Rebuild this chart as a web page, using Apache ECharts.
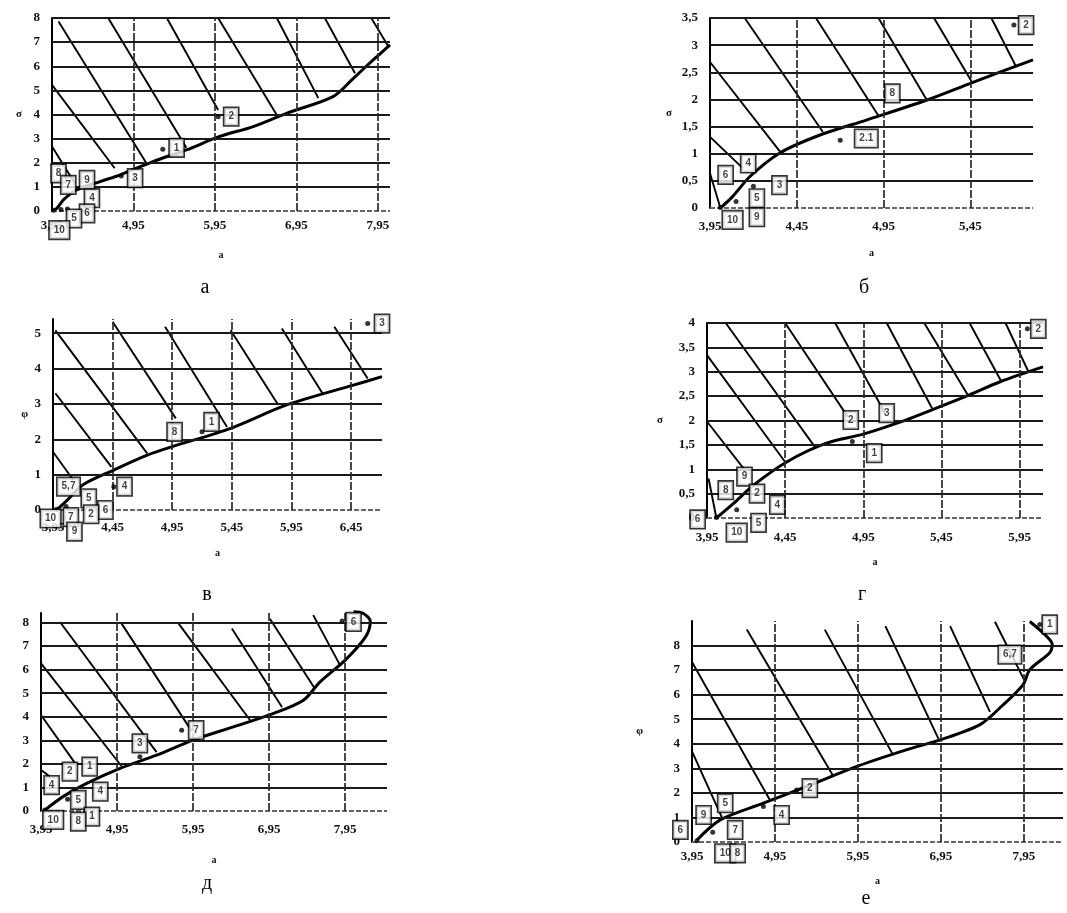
<!DOCTYPE html>
<html>
<head>
<meta charset="utf-8">
<script src="https://cdn.jsdelivr.net/npm/echarts@6/dist/echarts.min.js"></script>
<style>
html, body { margin: 0; background: #fff; }
#chart { width: 1067px; height: 913px; }
</style>
</head>
<body>
<div id="chart"></div>
<script>
// panel а
const aXTicks = [3.95, 4.95, 5.95, 6.95, 7.95];
const aYTicks = [0, 1, 2, 3, 4, 5, 6, 7, 8];
const aCurve = [[3.97, 0.02], [4.01, 0.11], [4.09, 0.46], [4.25, 0.87], [4.54, 1.22], [4.78, 1.49], [5.19, 2.05], [5.6, 2.53], [6.0, 3.08], [6.42, 3.5], [6.83, 4.05], [7.4, 4.74], [7.65, 5.5], [7.89, 6.25], [8.1, 6.89]];
const aHatch = [
    [[3.95, 5.23], [4.72, 1.77]], [[4.03, 7.86], [5.11, 1.98]], [[4.64, 8.0], [5.6, 2.62]],
    [[5.36, 8.0], [5.99, 4.19]], [[5.99, 8.0], [6.71, 3.98]], [[6.71, 8.0], [7.22, 4.68]],
    [[7.3, 8.0], [7.67, 5.71]], [[7.87, 8.0], [8.08, 6.82]], [[3.95, 2.67], [4.23, 1.15]]
];
const aDots = [[5.99, 3.91], [5.31, 2.56], [4.8, 1.45], [3.97, 0.03], [4.06, 0.06], [4.14, 0.08]];
const aBoxes = [[6.15, 3.91, '2'], [5.48, 2.62, '1'], [4.97, 1.36, '3'], [4.03, 1.56, '8'], [4.15, 1.08, '7'], [4.38, 1.29, '9'], [4.44, 0.53, '4'], [4.38, -0.1, '6'], [4.22, -0.31, '5'], [4.04, -0.79, '10']];

// panel б
const bXTicks = [3.95, 4.45, 4.95, 5.45];
const bYTicks = [0, 0.5, 1, 1.5, 2, 2.5, 3, 3.5];
const bCurve = [[4.01, 0.0], [4.08, 0.21], [4.18, 0.58], [4.35, 1.01], [4.58, 1.34], [4.85, 1.62], [5.2, 1.99], [5.46, 2.31], [5.81, 2.73]];
const bHatch = [
    [[3.95, 2.69], [4.36, 1.01]], [[3.95, 1.31], [4.14, 0.73]], [[3.95, 0.64], [4.01, 0.0]],
    [[4.15, 3.5], [4.6, 1.4]], [[4.56, 3.5], [4.92, 1.7]], [[4.92, 3.5], [5.2, 1.98]],
    [[5.24, 3.5], [5.46, 2.31]], [[5.57, 3.5], [5.71, 2.62]]
];
const bDots = [[5.7, 3.37], [4.7, 1.25], [4.2, 0.4], [4.01, 0.01], [4.1, 0.12]];
const bBoxes = [[5.77, 3.37, '2'], [4.85, 1.28, '2.1'], [5.0, 2.11, '8'], [4.04, 0.61, '6'], [4.17, 0.82, '4'], [4.35, 0.42, '3'], [4.22, 0.18, '5'], [4.08, -0.22, '10'], [4.22, -0.17, '9']];

// panel в
const vXTicks = [3.95, 4.45, 4.95, 5.45, 5.95, 6.45];
const vYTicks = [0, 1, 2, 3, 4, 5];
const vCurve = [[3.98, 0.0], [4.07, 0.28], [4.2, 0.71], [4.46, 1.13], [4.74, 1.55], [4.95, 1.79], [5.44, 2.31], [5.91, 2.97], [6.47, 3.53], [6.71, 3.77]];
const vHatch = [
    [[3.97, 5.08], [4.74, 1.6]], [[4.45, 5.32], [4.98, 2.59]], [[4.89, 5.18], [5.41, 2.35]],
    [[5.44, 5.08], [5.84, 2.97]], [[5.87, 5.13], [6.21, 3.3]], [[6.31, 5.18], [6.59, 3.72]],
    [[3.97, 3.3], [4.44, 1.22]], [[3.94, 1.69], [4.12, 0.85]]
];
const vDots = [[6.59, 5.27], [5.2, 2.21], [4.46, 0.66], [3.98, 0.02], [4.06, 0.1]];
const vBoxes = [[6.71, 5.27, '3'], [5.28, 2.49, '1'], [4.97, 2.21, '8'], [4.55, 0.66, '4'], [4.08, 0.66, '5,7'], [4.25, 0.33, '5'], [4.39, 0.0, '6'], [4.27, -0.12, '2'], [4.1, -0.2, '7'], [3.93, -0.24, '10'], [4.13, -0.61, '9']];

// panel г
const gXTicks = [3.95, 4.45, 4.95, 5.45, 5.95];
const gYTicks = [0, 0.5, 1, 1.5, 2, 2.5, 3, 3.5, 4];
const gCurve = [[4.01, 0.0], [4.12, 0.3], [4.25, 0.68], [4.46, 1.15], [4.71, 1.53], [4.95, 1.72], [5.18, 1.96], [5.39, 2.22], [5.61, 2.5], [5.83, 2.8], [6.1, 3.1]];
const gHatch = [
    [[4.07, 4.0], [4.64, 1.46]], [[4.45, 4.0], [4.85, 2.08]], [[4.77, 4.0], [5.09, 2.15]],
    [[5.1, 4.0], [5.39, 2.25]], [[5.34, 4.0], [5.62, 2.52]], [[5.63, 4.0], [5.83, 2.82]],
    [[5.86, 4.0], [6.01, 2.98]], [[3.95, 3.34], [4.45, 1.15]], [[3.95, 1.98], [4.2, 0.95]],
    [[3.96, 0.81], [4.01, 0.0]]
];
const gDots = [[6.0, 3.88], [4.88, 1.57], [4.14, 0.17], [4.01, 0.01]];
const gBoxes = [[6.07, 3.88, '2'], [4.87, 2.01, '2'], [5.1, 2.15, '3'], [5.02, 1.33, '1'], [4.07, 0.57, '8'], [4.19, 0.85, '9'], [4.27, 0.5, '2'], [4.4, 0.27, '4'], [4.28, -0.1, '5'], [4.14, -0.3, '10'], [3.89, -0.03, '6']];

// panel д
const dXTicks = [3.95, 4.95, 5.95, 6.95, 7.95];
const dYTicks = [0, 1, 2, 3, 4, 5, 6, 7, 8];
const dCurve = [[4.0, 0.04], [4.24, 0.61], [4.55, 1.17], [4.99, 1.81], [5.47, 2.37], [5.95, 3.01], [6.48, 3.57], [7.01, 4.14], [7.4, 4.7], [7.62, 5.48], [7.95, 6.4], [8.22, 7.4], [8.28, 8.05], [8.19, 8.38], [8.06, 8.45]];
const dHatch = [
    [[3.95, 6.26], [5.01, 1.9]], [[3.95, 4.07], [4.4, 2.02]], [[4.2, 8.02], [5.47, 2.5]],
    [[5.01, 7.95], [5.93, 3.4]], [[5.76, 7.95], [6.7, 3.85]], [[6.46, 7.74], [7.12, 4.4]],
    [[6.96, 8.16], [7.55, 5.2]], [[7.53, 8.31], [7.88, 6.2]], [[3.95, 1.74], [4.07, 1.45]]
];
const dDots = [[7.91, 8.06], [5.8, 3.43], [5.25, 2.3], [4.0, 0.04], [4.3, 0.5]];
const dBoxes = [[8.06, 8.02, '6'], [5.99, 3.43, '7'], [5.25, 2.87, '3'], [4.33, 1.67, '2'], [4.59, 1.88, '1'], [4.09, 1.1, '4'], [4.44, 0.47, '5'], [4.73, 0.82, '4'], [4.62, -0.24, '1'], [4.11, -0.38, '10'], [4.44, -0.45, '8']];

// panel е
const eXTicks = [3.95, 4.95, 5.95, 6.95, 7.95];
const eYTicks = [0, 1, 2, 3, 4, 5, 6, 7, 8];
const eCurve = [[4.01, 0.08], [4.29, 0.9], [4.81, 1.58], [5.33, 2.26], [5.93, 3.07], [6.54, 3.76], [6.94, 4.16], [7.42, 4.78], [7.7, 5.59], [7.94, 6.41], [8.02, 7.02], [8.26, 7.71], [8.29, 8.04], [8.2, 8.45], [8.02, 8.98]];
const eHatch = [
    [[3.95, 7.33], [4.89, 1.7]], [[3.95, 3.69], [4.31, 1.0]], [[4.61, 8.65], [5.65, 2.7]],
    [[5.55, 8.65], [6.36, 3.62]], [[6.28, 8.79], [6.92, 4.2]], [[7.06, 8.79], [7.54, 5.3]],
    [[7.6, 8.97], [7.95, 6.61]]
];
const eDots = [[8.14, 8.86], [5.21, 2.12], [4.81, 1.45], [4.01, 0.05], [4.2, 0.4]];
const eBoxes = [[8.26, 8.86, '1'], [7.78, 7.63, '6,7'], [5.37, 2.19, '2'], [5.03, 1.1, '4'], [4.35, 1.58, '5'], [4.09, 1.1, '9'], [3.81, 0.49, '6'], [4.47, 0.49, '7'], [4.35, -0.46, '10'], [4.5, -0.46, '8']];

const captions = ['а', 'б', 'в', 'г', 'д', 'е'];

const panels = [
    { xTicks: aXTicks, yTicks: aYTicks, curve: aCurve, hatch: aHatch, dots: aDots, boxes: aBoxes },
    { xTicks: bXTicks, yTicks: bYTicks, curve: bCurve, hatch: bHatch, dots: bDots, boxes: bBoxes },
    { xTicks: vXTicks, yTicks: vYTicks, curve: vCurve, hatch: vHatch, dots: vDots, boxes: vBoxes },
    { xTicks: gXTicks, yTicks: gYTicks, curve: gCurve, hatch: gHatch, dots: gDots, boxes: gBoxes },
    { xTicks: dXTicks, yTicks: dYTicks, curve: dCurve, hatch: dHatch, dots: dDots, boxes: dBoxes },
    { xTicks: eXTicks, yTicks: eYTicks, curve: eCurve, hatch: eHatch, dots: eDots, boxes: eBoxes }
];

// where each panel sits on the page
const layout = [
    { left: 52, top: 18, width: 338, height: 193, xMax: 8.1, yMax: 8, yName: 'σ', yGap: 30, xGap: 39, xMargin: 8, cap: [205, 288] },
    { left: 710, top: 18, width: 323, height: 190, xMax: 5.81, yMax: 3.5, yName: 'σ', yGap: 38, xGap: 40, xMargin: 12, cap: [864, 288] },
    { left: 53, top: 319, width: 329, height: 191, xMax: 6.71, yMax: 5.4, yName: 'φ', yGap: 25, xGap: 38, xMargin: 11, cap: [207, 595] },
    { left: 707, top: 323, width: 336, height: 195, xMax: 6.1, yMax: 4, yName: 'σ', yGap: 44, xGap: 39, xMargin: 13, cap: [862, 595] },
    { left: 41, top: 613, width: 346, height: 198, xMax: 8.5, yMax: 8.4, yName: '', yGap: 25, xGap: 44, xMargin: 12, cap: [207, 884] },
    { left: 692, top: 621, width: 371, height: 221, xMax: 8.42, yMax: 9.0, yName: 'φ', yGap: 49, xGap: 34, xMargin: 8, cap: [866, 899] }
];

const fmt = ticks => v => {
    const t = ticks.find(t => Math.abs(t - v) < 1e-6);
    return t === undefined ? '' : String(t).replace('.', ',');
};

const labelFont = { fontFamily: 'Liberation Serif', fontWeight: 'bold', fontSize: 13, color: '#111' };

const grids = [], xAxes = [], yAxes = [], series = [], graphics = [];

panels.forEach((p, i) => {
    const L = layout[i];
    grids.push({ left: L.left, top: L.top, width: L.width, height: L.height });
    xAxes.push({
        type: 'value', gridIndex: i, min: p.xTicks[0], max: L.xMax,
        interval: p.xTicks[1] - p.xTicks[0],
        splitLine: { show: false }, axisLine: { show: false }, axisTick: { show: false },
        axisLabel: Object.assign({ formatter: fmt(p.xTicks), margin: L.xMargin }, labelFont),
        name: 'a', nameLocation: 'middle', nameGap: L.xGap,
        nameTextStyle: { fontFamily: 'Liberation Serif', fontWeight: 'bold', fontSize: 10, color: '#111' }
    });
    yAxes.push({
        type: 'value', gridIndex: i, min: 0, max: L.yMax,
        interval: p.yTicks[1] - p.yTicks[0],
        splitLine: { show: false }, axisTick: { show: false },
        axisLine: { show: true, lineStyle: { color: '#000', width: 2 } },
        axisLabel: Object.assign({ formatter: fmt(p.yTicks), margin: 12 }, labelFont),
        name: L.yName, nameLocation: 'middle', nameGap: L.yGap, nameRotate: 0,
        nameTextStyle: { fontFamily: 'Liberation Serif', fontWeight: 'bold', fontSize: 11, color: '#111' }
    });

    const gridMarks = [];
    p.yTicks.forEach(v => gridMarks.push({
        yAxis: v,
        lineStyle: v === 0
            ? { color: '#666', width: 2, type: [5, 2] }
            : { color: '#1a1a1a', width: 2, type: 'solid' }
    }));
    p.xTicks.slice(1).forEach(v => gridMarks.push({
        xAxis: v, lineStyle: { color: '#2a2a2a', width: 1.7, type: [8, 2] }
    }));

    series.push({
        type: 'line', xAxisIndex: i, yAxisIndex: i, data: p.curve,
        showSymbol: false, smooth: 0.3, clip: false, z: 4,
        lineStyle: { color: '#000', width: 3 },
        markLine: {
            silent: true, symbol: ['none', 'none'], label: { show: false },
            emphasis: { disabled: true }, data: gridMarks
        }
    });
    series.push({
        type: 'lines', coordinateSystem: 'cartesian2d', xAxisIndex: i, yAxisIndex: i,
        data: p.hatch.map(h => ({ coords: h })), silent: true, z: 3,
        lineStyle: { color: '#000', width: 1.9, opacity: 1 }
    });
    series.push({
        type: 'scatter', xAxisIndex: i, yAxisIndex: i, data: p.dots, clip: false,
        symbolSize: 5, itemStyle: { color: '#000' }, z: 5
    });
    series.push({
        type: 'scatter', xAxisIndex: i, yAxisIndex: i, clip: false, z: 6,
        data: p.boxes.map(b => ({ value: [b[0], b[1]], name: b[2] })),
        symbolSize: 1, itemStyle: { color: 'rgba(0,0,0,0)' },
        label: {
            show: true, position: 'inside', formatter: '{b}',
            fontFamily: 'Liberation Sans', fontWeight: 'bold', fontSize: 10, color: '#111',
            backgroundColor: '#fff', borderColor: '#000', borderWidth: 1.6, padding: [4, 4, 3, 4]
        }
    });

    graphics.push({
        type: 'text', x: L.cap[0], y: L.cap[1],
        style: { text: captions[i], align: 'center', verticalAlign: 'middle', font: '20px "Liberation Serif"', fill: '#000' }
    });
});

const chart = echarts.init(document.getElementById('chart'));
chart.setOption({
    backgroundColor: '#fff',
    animation: false,
    grid: grids,
    xAxis: xAxes,
    yAxis: yAxes,
    series: series,
    graphic: graphics
});
</script>
</body>
</html>
